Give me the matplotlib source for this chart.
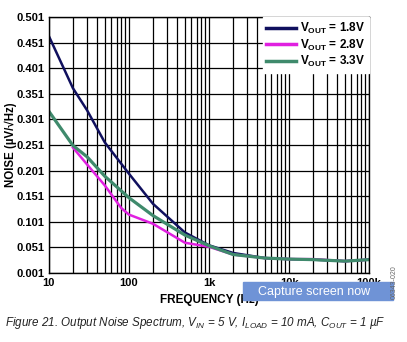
import matplotlib.pyplot as plt
from matplotlib.patches import Rectangle
from matplotlib import font_manager

plt.rcParams['font.family'] = ['Liberation Sans', 'DejaVu Sans']
plt.rcParams['mathtext.fontset'] = 'custom'
plt.rcParams['mathtext.rm'] = 'Liberation Sans:bold'

names = {f.name for f in font_manager.fontManager.ttflist}
cap_font = 'Liberation Sans Narrow' if 'Liberation Sans Narrow' in names else 'Liberation Sans'
cap_size = 11.0 if cap_font == 'Liberation Sans Narrow' else 8.4
plt.rcParams['mathtext.it'] = cap_font + ':italic'

# data
freq = [10, 20, 30, 50, 100, 200, 500, 1000, 2000, 5000, 10000, 20000, 50000, 100000]
noise_18 = [0.464, 0.362, 0.319, 0.256, 0.195, 0.136, 0.080, 0.055, 0.040, 0.030, 0.028, 0.027, 0.024, 0.027]
freq_28 = [20, 30, 50, 80, 100, 200, 500, 1000, 2000, 5000, 10000, 20000, 50000, 100000]
noise_28 = [0.246, 0.213, 0.172, 0.128, 0.115, 0.097, 0.060, 0.052, 0.037, 0.030, 0.028, 0.028, 0.024, 0.027]
noise_33 = [0.317, 0.250, 0.228, 0.190, 0.148, 0.113, 0.075, 0.054, 0.037, 0.030, 0.028, 0.027, 0.024, 0.027]

labels = [r'$\mathrm{V_{OUT}}$ = 1.8V', r'$\mathrm{V_{OUT}}$ = 2.8V', r'$\mathrm{V_{OUT}}$ = 3.3V']
colors = ['#10105e', '#e020e0', '#3f8a6c']

yticks = [0.001 + 0.05 * i for i in range(11)]
xticks = [10, 100, 1000, 10000, 100000]
xticklabels = ['10', '100', '1k', '10k', '100k']

fig = plt.figure(figsize=(4.07, 3.42), dpi=100)
ax = fig.add_axes([0.120, 0.202, 0.787, 0.748])

ax.plot(freq, noise_18, color=colors[0], lw=1.8, label=labels[0])
ax.plot(freq_28, noise_28, color=colors[1], lw=1.8, label=labels[1])
ax.plot(freq, noise_33, color=colors[2], lw=2.3, label=labels[2])

ax.set_xscale('log')
ax.set_xlim(10, 100000)
ax.set_ylim(0.001, 0.501)
ax.set_xticks(xticks)
ax.set_xticklabels(xticklabels)
ax.set_yticks(yticks)
ax.set_yticklabels(['%.3f' % v for v in yticks])
ax.tick_params(axis='both', which='both', length=0, labelsize=8, pad=4)
ax.tick_params(axis='y', pad=3)
for t in ax.get_xticklabels() + ax.get_yticklabels():
    t.set_fontweight('bold')
ax.grid(True, which='both', axis='x', color='black', lw=0.9)
ax.grid(True, which='major', axis='y', color='black', lw=0.9)
for s in ax.spines.values():
    s.set_linewidth(1.0)

ax.set_xlabel('FREQUENCY (Hz)', fontsize=8.5, fontweight='bold', labelpad=4)
ax.set_ylabel('NOISE (µV/√Hz)', fontsize=8.3, fontweight='bold',
              va='center', ha='center')
ax.yaxis.set_label_coords(-0.12, 0.5)

leg = ax.legend(loc='upper right', fontsize=8.5, frameon=True, fancybox=False,
                framealpha=1, edgecolor='white', borderaxespad=0,
                handlelength=2.5, handletextpad=0.4, labelspacing=0.15,
                borderpad=0.3)
for t in leg.get_texts():
    t.set_fontweight('bold')
for line in leg.get_lines():
    line.set_linewidth(2.5)

fig.text(0.012, 0.048, r'Figure 21. Output Noise Spectrum, $V_{IN}$ = 5 V, $I_{LOAD}$ = 10 mA, $C_{OUT}$ = 1 µF',
         fontsize=cap_size, style='italic', color='#222222', family=cap_font)

# screenshot overlay and part number
fig.patches.append(Rectangle((243 / 407, 1 - 300 / 342), 150 / 407, 18 / 342,
                             transform=fig.transFigure, color='#6f93d6', zorder=5))
fig.text(258 / 407, 1 - 292 / 342, 'Capture screen now', fontsize=9, color='white',
         va='center', zorder=6)
fig.text(394 / 407, 1 - 282 / 342, '06343-020', fontsize=5, color='#666666',
         rotation=90, va='center', ha='center', zorder=7)

fig.savefig('out.png', dpi=100)
